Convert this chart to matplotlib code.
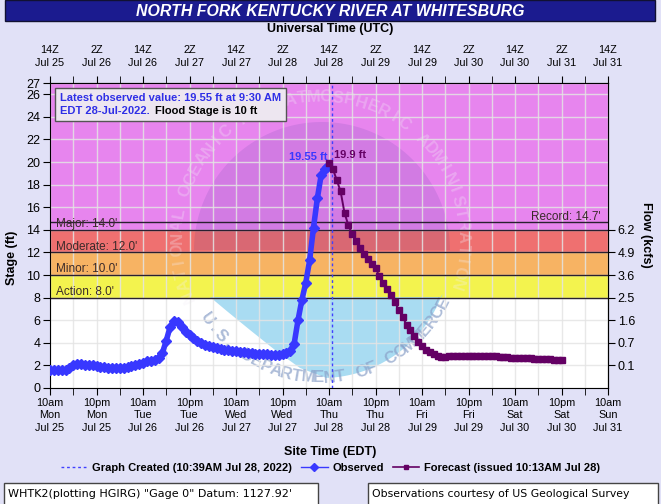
import matplotlib
matplotlib.use("Agg")
import matplotlib.pyplot as plt
from matplotlib.lines import Line2D
from matplotlib.patches import Rectangle, Polygon
from matplotlib.offsetbox import TextArea, VPacker, HPacker, AnchoredOffsetbox
import numpy as np
import pandas as pd

plt.rcParams['font.family'] = ['Liberation Sans', 'DejaVu Sans']

# observed stage (ft), hourly from 10am EDT Jul 25
obs_start = "2022-07-25 10:00"
obs_stage = [1.6, 1.6, 1.6, 1.6, 1.6, 1.8, 2.05, 2.15, 2.15, 2.05,
             2.0, 2.0, 1.95, 1.9, 1.85, 1.8, 1.8, 1.8, 1.8, 1.8,
             1.85, 1.95, 2.05, 2.15, 2.25, 2.35, 2.35, 2.45, 2.7, 3.1,
             4.2, 5.4, 5.9, 5.8, 5.4, 5.0, 4.7, 4.45, 4.2, 4.0,
             3.85, 3.75, 3.65, 3.55, 3.45, 3.4, 3.35, 3.3, 3.25, 3.2,
             3.15, 3.1, 3.1, 3.05, 3.05, 3.0, 3.0, 2.95, 2.95, 2.95,
             3.0, 3.1, 3.3, 3.9, 6.0, 7.8, 9.3, 11.3, 14.2, 16.8,
             18.9, 19.4]
obs_last_time = "2022-07-28 09:30"
obs_last_stage = 19.55

# forecast stage (ft), hourly from 10am EDT Jul 28
fcst_start = "2022-07-28 10:00"
fcst_stage = [19.9, 19.4, 18.4, 17.4, 15.5, 14.4, 13.6, 13.0, 12.4, 11.9,
              11.4, 11.0, 10.6, 9.9, 9.3, 8.8, 8.2, 7.6, 6.9, 6.3,
              5.6, 5.1, 4.6, 4.1, 3.7, 3.4, 3.2, 3.0, 2.85, 2.75,
              2.75, 2.8, 2.8, 2.8, 2.85, 2.85, 2.85, 2.85, 2.85, 2.85,
              2.85, 2.8, 2.8, 2.8, 2.75, 2.75, 2.75, 2.7, 2.7, 2.7,
              2.7, 2.65, 2.65, 2.6, 2.6, 2.6, 2.55, 2.55, 2.5, 2.5, 2.45]

graph_created = "2022-07-28 10:39"

flood_names = ["Action", "Minor", "Moderate", "Major"]
flood_levels = [8.0, 10.0, 12.0, 14.0]
band_tops = [10.0, 12.0, 14.0, 27.0]
band_colors = ["#f3f34e", "#f7b363", "#ef7070", "#e785ee"]
record_stage = 14.7

flow_stage = [2, 4, 6, 8, 10, 12, 14]
flow_labels = ["0.1", "0.7", "1.6", "2.5", "3.6", "4.9", "6.2"]

W, H = 661, 504
L, R, T, B = 50, 608, 83, 388   # plot box in pixels

fig = plt.figure(figsize=(W / 100, H / 100), dpi=100, facecolor="#e1e1f7")
ax = fig.add_axes([L / W, 1 - B / H, (R - L) / W, (B - T) / H])
ax.set_facecolor("white")

t0 = pd.Timestamp("2022-07-25 10:00")
t1 = t0 + pd.Timedelta(days=6)
ax.set_xlim(t0, t1)
ax.set_ylim(0, 27)

# flood category bands
for lo, hi, c in zip(flood_levels, band_tops, band_colors):
    ax.axhspan(lo, hi, color=c, lw=0, zorder=0.5)
for name, lev in zip(flood_names, flood_levels):
    ax.axhline(lev, color="#2a2030", lw=1, zorder=2.5)
    ax.text(0.01, lev + 0.5, f"{name}: {lev:.1f}'", transform=ax.get_yaxis_transform(),
            fontsize=8.5, color="#3a2a2a", va="center", ha="left", zorder=2.6)
ax.axhline(record_stage, color="#2a2030", lw=1, zorder=2.5)
ax.text(0.986, record_stage + 0.45, f"Record: {record_stage}'", transform=ax.get_yaxis_transform(),
        fontsize=8.5, color="#3a2a2a", va="center", ha="right", zorder=2.6)


# faint NOAA-like watermark, laid out in pixel space
def to_ax(px, py):
    return (np.asarray(px) - L) / (R - L), (B - np.asarray(py)) / (B - T)


cx, cy, rr = 322, 250, 128
th = np.linspace(0, np.pi, 100)
ux, uy = to_ax(cx + rr * np.cos(th), cy - rr * np.sin(th))
ax.add_patch(Polygon(np.column_stack([ux, uy]), closed=True, transform=ax.transAxes,
                     fc="#2a2a90", alpha=0.11, lw=0, zorder=1.2))
th2 = np.radians(np.linspace(-20, -88, 50))
sea_x = np.concatenate([[210, 442], cx + rr * np.cos(th2), [300, 275, 250, 228]])
sea_y = np.concatenate([[297, 297], cy - rr * np.sin(th2), [368, 350, 330, 312]])
lx, ly = to_ax(sea_x, sea_y)
ax.add_patch(Polygon(np.column_stack([lx, ly]), closed=True, transform=ax.transAxes,
                     fc="#9ad6f0", alpha=0.85, lw=0, zorder=1.2))

ring_top = "NATIONAL OCEANIC AND ATMOSPHERIC ADMINISTRATION"
for i, ch in enumerate(ring_top):
    a = np.radians(203 - i * 221 / (len(ring_top) - 1))
    x, y = to_ax(320 + 143 * np.cos(a), 240 - 143 * np.sin(a))
    ax.text(x, y, ch, transform=ax.transAxes, rotation=np.degrees(a) - 90,
            rotation_mode="anchor", ha="center", va="center", fontsize=12,
            fontweight="bold", color="#f4eef8", alpha=0.3, zorder=1.3)
ring_bot = "U.S. DEPARTMENT OF COMMERCE"
for i, ch in enumerate(ring_bot):
    a = np.radians(215 + i * 118 / (len(ring_bot) - 1))
    x, y = to_ax(320 + 138 * np.cos(a), 240 - 138 * np.sin(a))
    ax.text(x, y, ch, transform=ax.transAxes, rotation=np.degrees(a) + 90 - 360,
            rotation_mode="anchor", ha="center", va="center", fontsize=12,
            fontweight="bold", color="#8aa0c8", alpha=0.7, zorder=1.3)

# grid and ticks
major = pd.date_range(t0, t1, freq="12h")
minor = pd.date_range(t0 + pd.Timedelta(hours=6), t1, freq="12h")
ax.set_xticks(major)
ax.set_xticks(minor, minor=True)
ax.set_xticklabels([f"{t.strftime('%I%p').lstrip('0').lower()}\n{t.strftime('%a')}\n{t.strftime('%b')} {t.day}"
                    for t in major], fontsize=7.8, linespacing=1.3)
ax.set_yticks(list(range(0, 27, 2)) + [27])
ax.tick_params(axis="y", labelsize=9, length=5, pad=2)
ax.tick_params(axis="x", which="both", length=5, pad=2)
ax.grid(True, which="both", color="#e4e4e4", lw=1, alpha=0.85)

top = ax.secondary_xaxis("top")
top.set_xticks(major)
top.set_xticks(minor, minor=True)
top.set_xticklabels([f"{(t + pd.Timedelta(hours=4)).hour}Z\n{t.strftime('%b')} {(t + pd.Timedelta(hours=4)).day}"
                     for t in major], fontsize=7.8, linespacing=1.3)
top.tick_params(axis="x", which="both", length=5, pad=6)

right = ax.secondary_yaxis("right")
right.set_yticks(flow_stage)
right.set_yticklabels(flow_labels)
right.tick_params(labelsize=9, length=5, pad=2)

for sp in ax.spines.values():
    sp.set_color("black")

# data
obs_t = list(pd.date_range(obs_start, periods=len(obs_stage), freq="h")) + [pd.Timestamp(obs_last_time)]
obs_v = obs_stage + [obs_last_stage]
fc_t = pd.date_range(fcst_start, periods=len(fcst_stage), freq="h")

ax.axvline(pd.Timestamp(graph_created), color="#4040ff", ls=(0, (2, 2)), lw=1, zorder=3)
ax.plot(obs_t, obs_v, color="#3838ff", lw=4, solid_capstyle="round", zorder=4)
ax.plot(obs_t, obs_v, color="#3838ff", marker="D", ms=5, lw=1, zorder=4)
ax.plot(fc_t, fcst_stage, color="#640064", marker="s", ms=3.8, lw=1.4, zorder=4)

ax.annotate(f"{obs_last_stage} ft", (pd.Timestamp(obs_last_time), obs_last_stage),
            xytext=(0, 5), textcoords="offset pixels", ha="right", va="bottom",
            fontsize=8, fontweight="bold", color="#3838ff", zorder=5)
ax.annotate(f"{fcst_stage[0]} ft", (fc_t[0], fcst_stage[0]),
            xytext=(5, 3), textcoords="offset pixels", ha="left", va="bottom",
            fontsize=8, fontweight="bold", color="#640064", zorder=5)

# latest observation box
tp = dict(fontsize=8, fontweight="bold")
line1 = TextArea("Latest observed value: 19.55 ft at 9:30 AM", textprops=dict(color="#2f2fe6", **tp))
line2 = HPacker(children=[TextArea("EDT 28-Jul-2022.", textprops=dict(color="#2f2fe6", **tp)),
                          TextArea("Flood Stage is 10 ft", textprops=dict(color="black", **tp))],
                align="baseline", pad=0, sep=4)
box = AnchoredOffsetbox(loc="upper left", child=VPacker(children=[line1, line2], align="left", pad=0, sep=2),
                        pad=0.35, borderpad=0, frameon=True,
                        bbox_to_anchor=(55 / W, 1 - 88 / H), bbox_transform=fig.transFigure)
box.patch.set_facecolor("#ede6f0")
box.patch.set_edgecolor("#555555")
box.zorder = 6
ax.add_artist(box)

# figure texts
fig.patches.append(Rectangle((5 / W, 1 - 21 / H), 650 / W, 21 / H, transform=fig.transFigure,
                             fc="#1b1b8f", ec="#111133", lw=1))
fig.text(0.5, 1 - 11 / H, "NORTH FORK KENTUCKY RIVER AT WHITESBURG", ha="center", va="center",
         color="white", fontsize=11.4, fontweight="bold", fontstyle="italic")
fig.text(330 / W, 1 - 29 / H, "Universal Time (UTC)", ha="center", va="center", fontsize=9, fontweight="bold")
fig.text(330 / W, 1 - 452 / H, "Site Time (EDT)", ha="center", va="center", fontsize=9, fontweight="bold")
fig.text(12 / W, 1 - 258 / H, "Stage (ft)", ha="center", va="center", rotation=90, fontsize=9, fontweight="bold")
fig.text(646 / W, 1 - 235 / H, "Flow (kcfs)", ha="center", va="center", rotation=270, fontsize=9, fontweight="bold")

handles = [Line2D([], [], color="#4040ff", ls=(0, (2, 2)), lw=1),
           Line2D([], [], color="#3838ff", marker="D", ms=4, lw=1),
           Line2D([], [], color="#640064", marker="s", ms=3.3, lw=1.2)]
labels = ["Graph Created (10:39AM Jul 28, 2022)", "Observed", "Forecast (issued 10:13AM Jul 28)"]
fig.legend(handles, labels, loc="center", bbox_to_anchor=(0.5, 1 - 468 / H), ncol=3, frameon=False,
           prop=dict(size=8, weight="bold"), handlelength=2.4, columnspacing=0.8, handletextpad=0.4)

fig.patches.append(Rectangle((4 / W, -0.01), 314 / W, 21 / H + 0.01, transform=fig.transFigure,
                             fc="white", ec="#444444", lw=1))
fig.patches.append(Rectangle((368 / W, -0.01), 290 / W, 21 / H + 0.01, transform=fig.transFigure,
                             fc="white", ec="#444444", lw=1))
fig.text(8 / W, 1 - 494 / H, "WHTK2(plotting HGIRG) \"Gage 0\" Datum: 1127.92'", va="center",
         fontsize=8, family="DejaVu Sans")
fig.text(372 / W, 1 - 494 / H, "Observations courtesy of US Geological Survey", va="center",
         fontsize=7.8, family="DejaVu Sans")

fig.savefig("out.png", dpi=100, facecolor=fig.get_facecolor())
